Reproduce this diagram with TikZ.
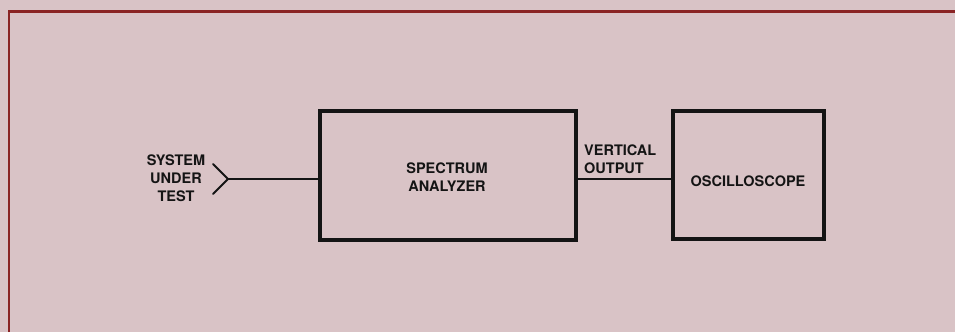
\documentclass[tikz,border=0pt]{standalone}
\usepackage{fontspec}
\setmainfont{TeX Gyre Heros}
\definecolor{bg}{HTML}{D9C3C6}
\definecolor{frame}{HTML}{8A2424}
\definecolor{ink}{HTML}{141414}
\begin{document}
\begin{tikzpicture}[x=1pt,y=1pt,
  blockbox/.style={draw=ink,line width=3.5pt,inner sep=0pt},
  lbl/.style={font=\bfseries\fontsize{14.5}{18}\selectfont,text=ink,align=center,inner sep=0pt},
  wire/.style={draw=ink,line width=1.4pt}]
\useasboundingbox (0,0) rectangle (955,332);
\fill[bg] (0,0) rectangle (955,332);
\draw[frame,line width=2.5pt] (9,0) -- (9,320.5) -- (955,320.5);
\node[blockbox,minimum width=256pt,minimum height=129pt] (sa) at (448,156.5) {};
\node[blockbox,minimum width=151pt,minimum height=128pt] (osc) at (748.5,157) {};
\node[lbl] (satext) at (447,155) {SPECTRUM\\ANALYZER};
\node[lbl] (osctext) at (748,151) {OSCILLOSCOPE};
\node[lbl] (sut) at (176,153.5) {SYSTEM\\UNDER\\TEST};
\coordinate (tip) at (228,153);
\coordinate (armA) at (213,168);
\coordinate (armB) at (213,138);
\draw[wire,line width=2pt,line cap=round,line join=miter] (armA) -- (tip) -- (armB);
\draw[wire] (tip) -- (sa.west |- tip);
\draw[wire] (sa.east |- tip) -- (osc.west |- tip);
\node[lbl,align=left,anchor=south west] (vo) at (584,158.5) {VERTICAL\\OUTPUT};
\end{tikzpicture}
\end{document}
